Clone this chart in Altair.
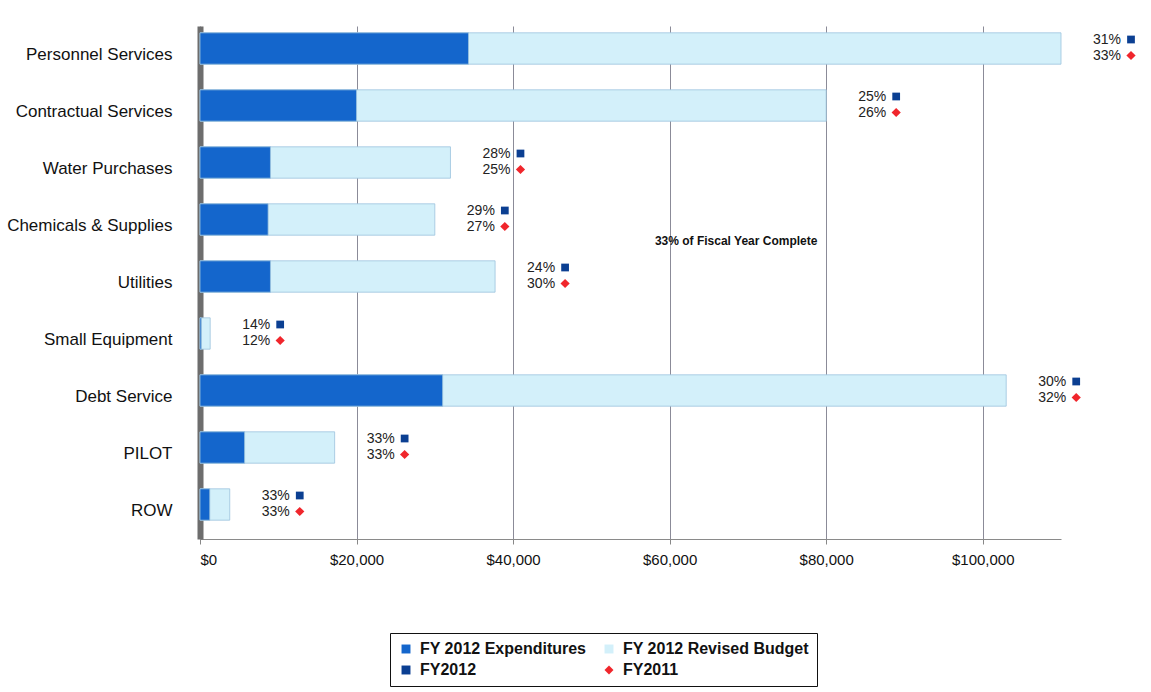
import altair as alt
import pandas as pd

categories = ["Personnel Services", "Contractual Services", "Water Purchases",
              "Chemicals & Supplies", "Utilities", "Small Equipment",
              "Debt Service", "PILOT", "ROW"]
budget = [110000, 80000, 32000, 30000, 37700, 1300, 103000, 17200, 3800]
expenditures = [34300, 20000, 9000, 8700, 9000, 180, 31000, 5700, 1250]
fy2012_pct = ["31%", "25%", "28%", "29%", "24%", "14%", "30%", "33%", "33%"]
fy2011_pct = ["33%", "26%", "25%", "27%", "30%", "12%", "32%", "33%", "33%"]
x_ticks = [0, 20000, 40000, 60000, 80000, 100000]

series_domain = ["FY 2012 Expenditures", "FY 2012 Revised Budget", "FY2012", "FY2011"]
series_colors = ["#1466cc", "#d3f0fa", "#0b3f92", "#f0262c"]
series_shapes = ["square", "square", "square", "diamond"]

bars = pd.DataFrame(
    [{"category": c, "series": "FY 2012 Revised Budget", "value": b} for c, b in zip(categories, budget)]
    + [{"category": c, "series": "FY 2012 Expenditures", "value": e} for c, e in zip(categories, expenditures)]
)
marks = pd.DataFrame(
    [{"category": c, "series": "FY2012", "pct": p, "budget": b} for c, p, b in zip(categories, fy2012_pct, budget)]
    + [{"category": c, "series": "FY2011", "pct": p, "budget": b} for c, p, b in zip(categories, fy2011_pct, budget)]
)
note = pd.DataFrame([{"category": "Chemicals & Supplies", "value": 68500,
                      "label": "33%  of Fiscal Year Complete"}])

W, H = 861, 513
LEFT, TOP = 200, 26


def legend():
    return alt.Legend(title=None, orient="none", legendX=190, legendY=607,
                      columns=2, direction="horizontal", labelFontSize=16,
                      labelFontWeight="bold", labelLimit=400, symbolSize=80,
                      columnPadding=14, rowPadding=5, padding=8, strokeColor="#111",
                      symbolStrokeWidth=0, labelColor="#111", labelOffset=6)


color = alt.Color("series:N",
                  scale=alt.Scale(domain=series_domain, range=series_colors),
                  legend=legend())
shape = alt.Shape("series:N", scale=alt.Scale(domain=series_domain, range=series_shapes),
                  legend=legend())

y_enc = alt.Y("category:N", sort=categories,
              scale=alt.Scale(paddingInner=0.45, paddingOuter=0.225),
              axis=alt.Axis(title=None, labelFontSize=17, labelPadding=28, ticks=False,
                            labelColor="#111", domainColor="#6d6d6d", domainWidth=6))
x_scale = alt.Scale(domain=[0, 110000], nice=False, zero=True)
x_axis = alt.Axis(title=None, values=x_ticks, format="$,.0f", grid=True,
                  gridColor="#8b8b98", gridWidth=1, labelFontSize=15, labelColor="#111",
                  tickSize=5, tickColor="#888", domainColor="#8a8a8a", labelPadding=8)

bar_layer = alt.Chart(bars).mark_bar(yOffset=-6, stroke="#9cc3dd", strokeWidth=0.8).encode(
    x=alt.X("value:Q", stack=None, scale=x_scale, axis=x_axis),
    y=y_enc,
    color=color,
)

DX = 32
txt12 = alt.Chart(marks).transform_filter(alt.datum.series == "FY2012").mark_text(
    align="left", baseline="middle", dx=DX, dy=-15, fontSize=14, color="#222").encode(
    x=alt.X("budget:Q", scale=x_scale), y=y_enc, text="pct:N")
txt11 = alt.Chart(marks).transform_filter(alt.datum.series == "FY2011").mark_text(
    align="left", baseline="middle", dx=DX, dy=1, fontSize=14, color="#222").encode(
    x=alt.X("budget:Q", scale=x_scale), y=y_enc, text="pct:N")
pt12 = alt.Chart(marks).transform_filter(alt.datum.series == "FY2012").mark_point(
    filled=True, opacity=1, size=60, xOffset=DX + 38, yOffset=-15).encode(
    x=alt.X("budget:Q", scale=x_scale), y=y_enc, color=color, shape=shape)
pt11 = alt.Chart(marks).transform_filter(alt.datum.series == "FY2011").mark_point(
    filled=True, opacity=1, size=85, xOffset=DX + 38, yOffset=1).encode(
    x=alt.X("budget:Q", scale=x_scale), y=y_enc, color=color, shape=shape)

note_layer = alt.Chart(note).mark_text(fontSize=12, fontWeight="bold", color="#111",
                                       yOffset=15).encode(
    x=alt.X("value:Q", scale=x_scale), y=y_enc, text="label:N")

chart = alt.layer(bar_layer, txt12, txt11, pt12, pt11, note_layer).resolve_scale(
    color="shared", shape="shared"
).properties(
    width=W, height=H,
    autosize=alt.AutoSizeParams(type="none"),
    padding={"left": LEFT, "top": TOP, "right": 1151 - LEFT - W, "bottom": 692 - TOP - H},
).configure(font="Liberation Sans").configure_view(stroke=None)

chart.save("out.html", embed_options={"renderer": "svg", "actions": False})
